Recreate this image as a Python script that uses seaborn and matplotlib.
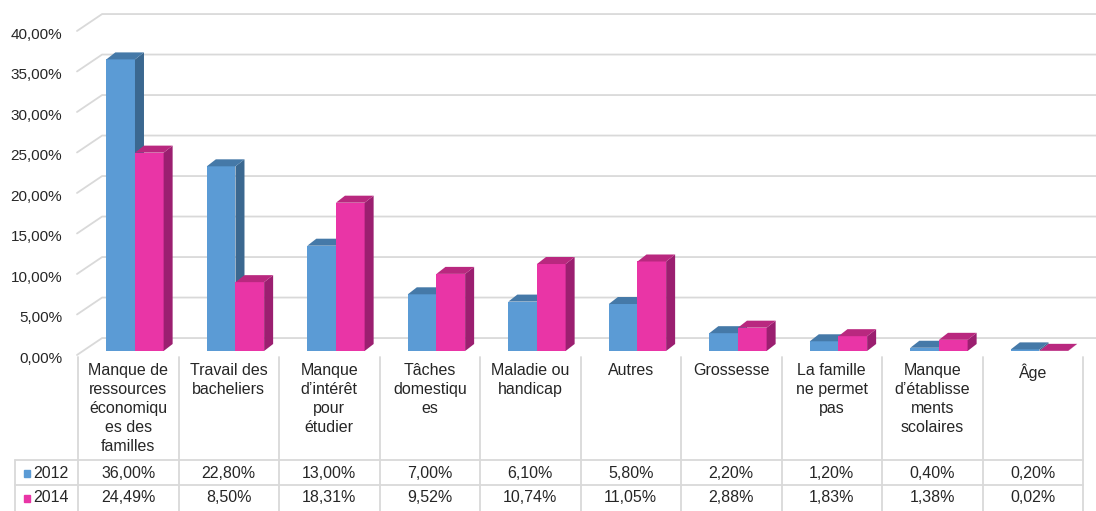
import pandas as pd
import matplotlib
matplotlib.use('Agg')
import matplotlib.pyplot as plt
import seaborn as sns
from matplotlib.patches import Polygon, Rectangle
from matplotlib.lines import Line2D
from matplotlib.transforms import blended_transform_factory, ScaledTranslation

# Data
causes = [
    "Manque de\nressources\néconomiqu\nes des\nfamilles",
    "Travail des\nbacheliers",
    "Manque\nd’intérêt\npour\nétudier",
    "Tâches\ndomestiqu\nes",
    "Maladie ou\nhandicap",
    "Autres",
    "Grossesse",
    "La famille\nne permet\npas",
    "Manque\nd’établisse\nments\nscolaires",
    "Âge",
]
years = ["2012", "2014"]
val_2012 = [36.00, 22.80, 13.00, 7.00, 6.10, 5.80, 2.20, 1.20, 0.40, 0.20]
val_2014 = [24.49, 8.50, 18.31, 9.52, 10.74, 11.05, 2.88, 1.83, 1.38, 0.02]
yticks = [0, 5, 10, 15, 20, 25, 30, 35, 40]

# Colours (front, side, top)
blue, blue_side, blue_top = "#5b9bd5", "#3b6890", "#4579a8"
pink, pink_side, pink_top = "#e935a6", "#9b1f70", "#b9287f"
grid_col = "#d9d9d9"
text_col = "#262626"

df = pd.DataFrame({
    "cause": causes * 2,
    "year": [years[0]] * len(causes) + [years[1]] * len(causes),
    "value": val_2012 + val_2014,
})

sns.set_style("white")
plt.rcParams["font.family"] = ["Liberation Sans", "DejaVu Sans"]

W, H = 1096, 511
fig = plt.figure(figsize=(W / 100, H / 100), dpi=100)
ppu = 8.1  # pixels per percent
ax = fig.add_axes([78 / W, 1 - 351 / H, 1005 / W, 42 * ppu / H])

sns.barplot(data=df, x="cause", y="value", hue="year", palette=[blue, pink],
            width=0.57, saturation=1, errorbar=None, legend=False,
            linewidth=0, ax=ax)

xl, xr = -0.567, 9.433
ax.set_xlim(xl, xr)
ax.set_ylim(0, 42)

# 3D look: side and top faces on every bar
dx, dy = 9 / 100.5, 7 / ppu
for cont, side, top, z in zip(ax.containers, [blue_side, pink_side], [blue_top, pink_top], [2, 3]):
    for bar in cont:
        x0, w, h = bar.get_x(), bar.get_width(), bar.get_height()
        x1 = x0 + w
        bar.set_zorder(z)
        ax.add_patch(Polygon([(x1, 0), (x1 + dx, dy), (x1 + dx, h + dy), (x1, h)],
                             closed=True, fc=side, ec="none", zorder=z + 0.5))
        ax.add_patch(Polygon([(x0, h), (x0 + dx, h + dy), (x1 + dx, h + dy), (x1, h)],
                             closed=True, fc=top, ec="none", zorder=z + 0.5))

# back wall grid lines with the little diagonal at the left
for v in yticks:
    ax.plot([xl - 0.01, xl + 0.24, xr + 0.3], [v - 0.49, v + 1.6, v + 1.6],
            color=grid_col, lw=1.3, zorder=0.5, clip_on=False)

ax.set_yticks(yticks)
ax.set_yticklabels([f"{v:.2f}%".replace(".", ",") for v in yticks])
ax.tick_params(axis="y", length=0, pad=11.5, labelsize=11, labelcolor=text_col)
offset = ScaledTranslation(0, -6 / 100, fig.dpi_scale_trans)
for lab in ax.get_yticklabels():
    lab.set_transform(lab.get_transform() + offset)
ax.set_xticks([])
ax.set_xlabel("")
ax.set_ylabel("")
sns.despine(ax=ax, left=True, bottom=True)

# data table under the chart
tx = blended_transform_factory(ax.transData, fig.transFigure)
fy = lambda px: 1 - px / H

for k in range(len(causes) + 1):
    ax.plot([xl + k, xl + k], [fy(357), fy(H)], transform=tx, color=grid_col,
            lw=1.3, clip_on=False)
for ypx in [460, 485]:
    fig.add_artist(Line2D([15 / W, 1083 / W], [fy(ypx), fy(ypx)], color=grid_col, lw=1.3))
fig.add_artist(Line2D([15 / W, 15 / W], [fy(460), fy(H)], color=grid_col, lw=1.3))

for k, lab in enumerate(causes):
    ax.text(xl + k + 0.5, fy(363), lab, transform=tx, ha="center", va="top",
            fontsize=11.5, linespacing=1.33, color=text_col)

for yr, vals, col, ypx in [(years[0], val_2012, blue, 473), (years[1], val_2014, pink, 498)]:
    fig.add_artist(Rectangle((24 / W, fy(ypx + 3.5)), 6 / W, 7 / H, color=col,
                             transform=fig.transFigure))
    fig.text(33 / W, fy(ypx), yr, ha="left", va="center", fontsize=11.5, color=text_col)
    for k, v in enumerate(vals):
        ax.text(xl + k + 0.5, fy(ypx), f"{v:.2f}%".replace(".", ","), transform=tx,
                ha="center", va="center", fontsize=11.5, color=text_col)

fig.savefig("out.png", dpi=100)
